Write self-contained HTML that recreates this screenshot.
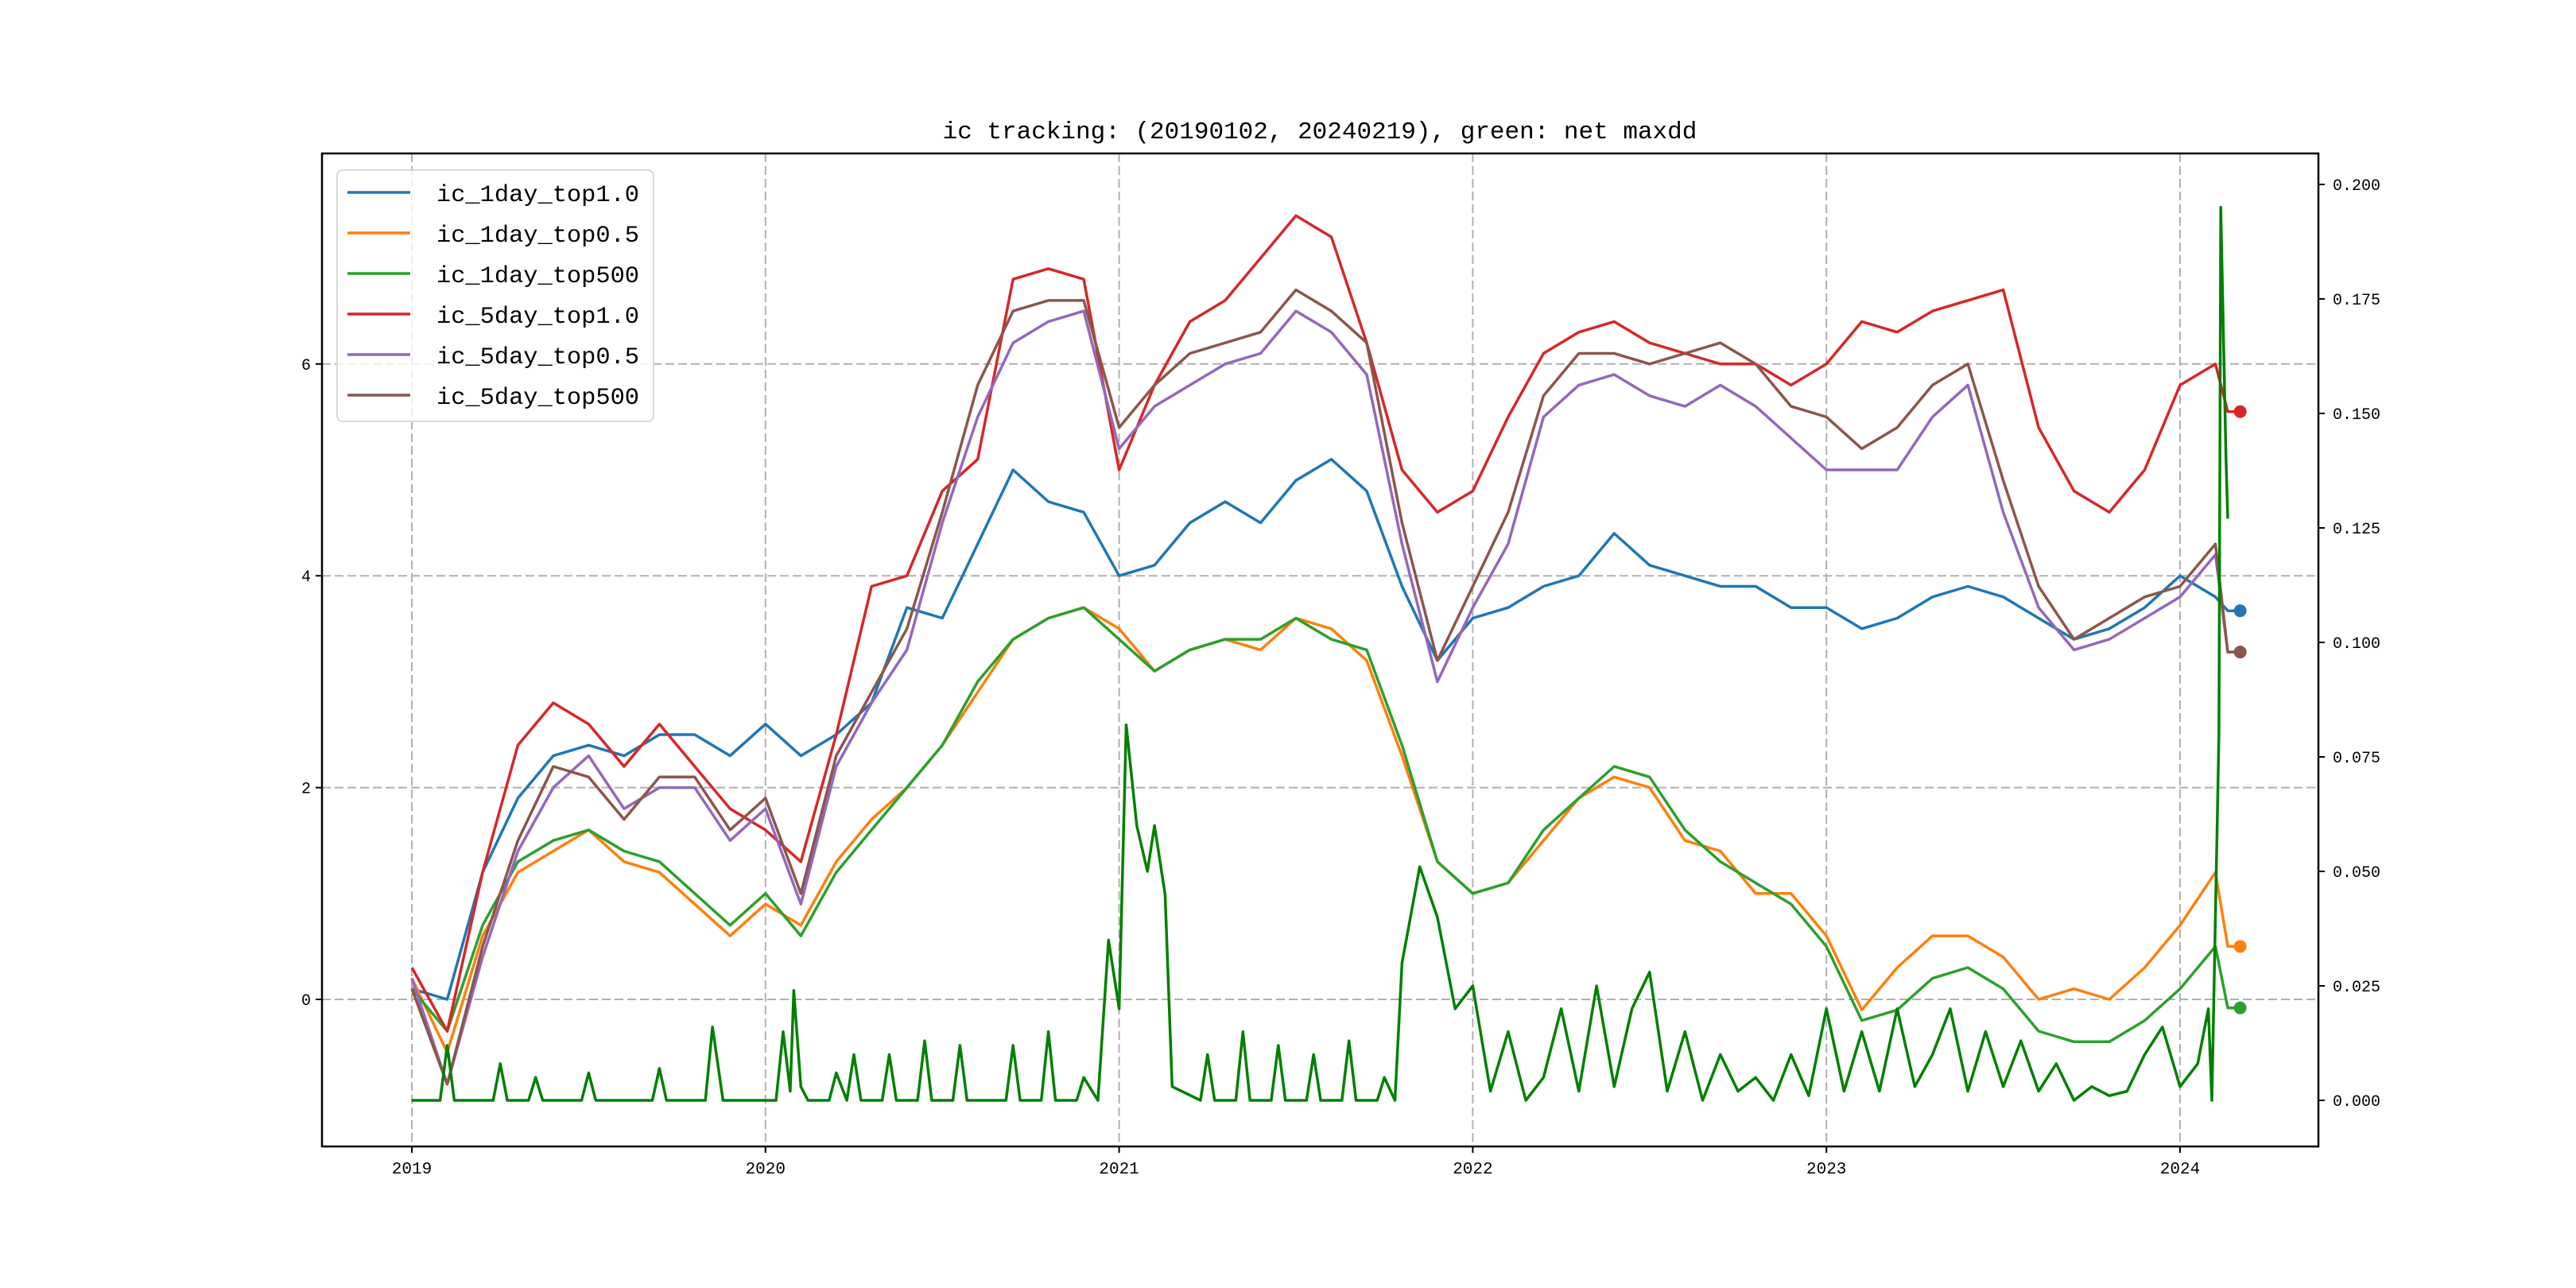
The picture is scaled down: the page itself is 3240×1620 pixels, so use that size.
<!DOCTYPE html>
<html><head><meta charset="utf-8"><style>
html,body{margin:0;padding:0;background:#fff;}
svg{display:block;}
text{font-family:"Liberation Mono","Noto Sans CJK SC",monospace;fill:#000;}
</style></head><body>
<svg id="chart" width="3240" height="1620" viewBox="0 0 3240 1620" xmlns="http://www.w3.org/2000/svg">
<rect width="3240" height="1620" fill="#fff"/>
<text x="1660" y="174" font-size="31" text-anchor="middle">ic tracking: (20190102, 20240219), green: net maxdd</text>
<g id="grid"></g>
<g id="series"></g>
<g id="axes"></g>
<g id="legend"></g>
</svg>
<script>
const years = [2019,2020,2021,2022,2023,2024];
const leftTicks = [0,2,4,6];
const rightTicks = [0,0.025,0.05,0.075,0.1,0.125,0.15,0.175,0.2];
const rightTickLabels = ["0.000","0.025","0.050","0.075","0.100","0.125","0.150","0.175","0.200"];
const seriesNames = ["ic_1day_top1.0","ic_1day_top0.5","ic_1day_top500","ic_5day_top1.0","ic_5day_top0.5","ic_5day_top500"];
const seriesColors = ["#1f77b4","#ff7f0e","#2ca02c","#d62728","#9467bd","#8c564b"];
const dates = [];
for (let i = 0; i <= 51; i++) dates.push(2019 + i * 0.1);
const endDate = 2024.135;
const markerDate = 2024.17;
const blue = [0.1,0.0,1.2,1.9,2.3,2.4,2.3,2.5,2.5,2.3, 2.6,2.3,2.5,2.8,3.7,3.6,4.3,5.0,4.7,4.6, 4.0,4.1,4.5,4.7,4.5,4.9,5.1,4.8,3.9,3.2, 3.6,3.7,3.9,4.0,4.4,4.1,4.0,3.9,3.9,3.7, 3.7,3.5,3.6,3.8,3.9,3.8,3.6,3.4,3.5,3.7, 4.0,3.8];
const orange = [0.2,-0.5,0.6,1.2,1.4,1.6,1.3,1.2,0.9,0.6, 0.9,0.7,1.3,1.7,2.0,2.4,2.9,3.4,3.6,3.7, 3.5,3.1,3.3,3.4,3.3,3.6,3.5,3.2,2.3,1.3, 1.0,1.1,1.5,1.9,2.1,2.0,1.5,1.4,1.0,1.0, 0.6,-0.1,0.3,0.6,0.6,0.4,0.0,0.1,0.0,0.3, 0.7,1.2];
const green = [0.1,-0.3,0.7,1.3,1.5,1.6,1.4,1.3,1.0,0.7, 1.0,0.6,1.2,1.6,2.0,2.4,3.0,3.4,3.6,3.7, 3.4,3.1,3.3,3.4,3.4,3.6,3.4,3.3,2.4,1.3, 1.0,1.1,1.6,1.9,2.2,2.1,1.6,1.3,1.1,0.9, 0.5,-0.2,-0.1,0.2,0.3,0.1,-0.3,-0.4,-0.4,-0.2, 0.1,0.5];
const red = [0.3,-0.3,1.2,2.4,2.8,2.6,2.2,2.6,2.2,1.8, 1.6,1.3,2.5,3.9,4.0,4.8,5.1,6.8,6.9,6.8, 5.0,5.8,6.4,6.6,7.0,7.4,7.2,6.2,5.0,4.6, 4.8,5.5,6.1,6.3,6.4,6.2,6.1,6.0,6.0,5.8, 6.0,6.4,6.3,6.5,6.6,6.7,5.4,4.8,4.6,5.0, 5.8,6.0];
const purple = [0.2,-0.8,0.4,1.4,2.0,2.3,1.8,2.0,2.0,1.5, 1.8,0.9,2.2,2.8,3.3,4.5,5.5,6.2,6.4,6.5, 5.2,5.6,5.8,6.0,6.1,6.5,6.3,5.9,4.3,3.0, 3.7,4.3,5.5,5.8,5.9,5.7,5.6,5.8,5.6,5.3, 5.0,5.0,5.0,5.5,5.8,4.6,3.7,3.3,3.4,3.6, 3.8,4.2];
const brown = [0.1,-0.8,0.5,1.5,2.2,2.1,1.7,2.1,2.1,1.6, 1.9,1.0,2.3,2.9,3.5,4.6,5.8,6.5,6.6,6.6, 5.4,5.8,6.1,6.2,6.3,6.7,6.5,6.2,4.5,3.2, 3.9,4.6,5.7,6.1,6.1,6.0,6.1,6.2,6.0,5.6, 5.5,5.2,5.4,5.8,6.0,4.9,3.9,3.4,3.6,3.8, 3.9,4.3];
const endValues = [3.67,0.5,-0.08,5.55,3.28,3.28];
const maxddDates = [2019.0,2019.08,2019.1,2019.12,2019.23,2019.25,2019.27,2019.33,2019.35,2019.37,2019.48,2019.5,2019.52,2019.68,2019.7,2019.72,2019.83,2019.85,2019.88,2020.03,2020.05,2020.07,2020.08,2020.1,2020.12,2020.18,2020.2,2020.23,2020.25,2020.27,2020.33,2020.35,2020.37,2020.43,2020.45,2020.47,2020.53,2020.55,2020.57,2020.68,2020.7,2020.72,2020.78,2020.8,2020.82,2020.88,2020.9,2020.94,2020.97,2021.0,2021.02,2021.05,2021.08,2021.1,2021.13,2021.15,2021.23,2021.25,2021.27,2021.33,2021.35,2021.37,2021.43,2021.45,2021.47,2021.53,2021.55,2021.57,2021.63,2021.65,2021.67,2021.73,2021.75,2021.78,2021.8,2021.85,2021.9,2021.95,2022.0,2022.05,2022.1,2022.15,2022.2,2022.25,2022.3,2022.35,2022.4,2022.45,2022.5,2022.55,2022.6,2022.65,2022.7,2022.75,2022.8,2022.85,2022.9,2022.95,2023.0,2023.05,2023.1,2023.15,2023.2,2023.25,2023.3,2023.35,2023.4,2023.45,2023.5,2023.55,2023.6,2023.65,2023.7,2023.75,2023.8,2023.85,2023.9,2023.95,2024.0,2024.05,2024.08,2024.09,2024.11,2024.115,2024.13,2024.135];
const maxddValues = [0,0,0.012,0,0,0.008,0,0,0.005,0,0,0.006,0,0,0.007,0,0,0.016,0,0,0.015,0.002,0.024,0.003,0,0,0.006,0,0.01,0,0,0.01,0,0,0.013,0,0,0.012,0,0,0.012,0,0,0.015,0,0,0.005,0,0.035,0.02,0.082,0.06,0.05,0.06,0.045,0.003,0,0.01,0,0,0.015,0,0,0.012,0,0,0.01,0,0,0.013,0,0,0.005,0,0.03,0.051,0.04,0.02,0.025,0.002,0.015,0,0.005,0.02,0.002,0.025,0.003,0.02,0.028,0.002,0.015,0,0.01,0.002,0.005,0,0.01,0.001,0.02,0.002,0.015,0.002,0.02,0.003,0.01,0.02,0.002,0.015,0.003,0.013,0.002,0.008,0,0.003,0.001,0.002,0.01,0.016,0.003,0.008,0.02,0,0.08,0.195,0.14,0.127];

const L = 405, R = 2916, T = 193, B = 1442;
const x = d => 518 + (d - 2019) * 444.8;
const yL = v => 1257 - v * 133.2;
const yR = v => 1384 - v * 5760;
const NS = "http://www.w3.org/2000/svg";
function mk(tag, attrs, parent) {
  const e = document.createElementNS(NS, tag);
  for (const k in attrs) e.setAttribute(k, attrs[k]);
  parent.appendChild(e);
  return e;
}
const grid = document.getElementById('grid');
const series = document.getElementById('series');
const axes = document.getElementById('axes');
const legend = document.getElementById('legend');

years.forEach(yv => {
  const g = mk('line', {x1: x(yv), x2: x(yv), y1: T, y2: B, stroke: '#b0b0b0', 'stroke-width': 2, 'stroke-dasharray': '11,5'}, grid);
  
  
});
leftTicks.forEach(v => {
  const g = mk('line', {x1: L, x2: R, y1: yL(v), y2: yL(v), stroke: '#b0b0b0', 'stroke-width': 2, 'stroke-dasharray': '11,5'}, grid);
  
  
});

const all = [blue, orange, green, red, purple, brown];
all.forEach((vals, i) => {
  let d = '';
  vals.forEach((v, j) => { d += (j ? 'L' : 'M') + x(dates[j]).toFixed(1) + ',' + yL(v).toFixed(1); });
  d += 'L' + x(endDate).toFixed(1) + ',' + yL(endValues[i]).toFixed(1);
  d += 'L' + x(markerDate).toFixed(1) + ',' + yL(endValues[i]).toFixed(1);
  const p = mk('path', {d: d, fill: 'none', stroke: seriesColors[i], 'stroke-width': 3.5, 'stroke-linejoin': 'round'}, series);
  
  
});
all.forEach((vals, i) => {
  const c = mk('circle', {cx: x(markerDate), cy: yL(endValues[i]), r: 8, fill: seriesColors[i]}, series);
  
  
});
{
  let d = '';
  maxddValues.forEach((v, j) => { d += (j ? 'L' : 'M') + x(maxddDates[j]).toFixed(1) + ',' + yR(v).toFixed(1); });
  const p = mk('path', {d: d, fill: 'none', stroke: '#008000', 'stroke-width': 3.5, 'stroke-linejoin': 'round'}, series);
  
  
}

const frame = mk('rect', {x: L, y: T, width: R - L, height: B - T, fill: 'none', stroke: '#000', 'stroke-width': 2.5}, axes);


years.forEach(yv => {
  mk('line', {x1: x(yv), x2: x(yv), y1: B, y2: B + 8, stroke: '#000', 'stroke-width': 2}, axes);
  const t = mk('text', {x: x(yv), y: B + 34, 'font-size': 21, 'text-anchor': 'middle', 'font-family': 'Liberation Sans, sans-serif'}, axes);
  t.textContent = yv;
  
  
});
leftTicks.forEach(v => {
  mk('line', {x1: L - 8, x2: L, y1: yL(v), y2: yL(v), stroke: '#000', 'stroke-width': 2}, axes);
  const t = mk('text', {x: L - 14, y: yL(v) + 7, 'font-size': 20, 'text-anchor': 'end'}, axes);
  t.textContent = v;
  
  
});
rightTicks.forEach((v, i) => {
  mk('line', {x1: R, x2: R + 8, y1: yR(v), y2: yR(v), stroke: '#000', 'stroke-width': 2}, axes);
  const t = mk('text', {x: R + 18, y: yR(v) + 7, 'font-size': 20}, axes);
  t.textContent = rightTickLabels[i];
  
  
});

const lb = mk('rect', {x: 424, y: 214, width: 398, height: 316, rx: 7, fill: '#fff', 'fill-opacity': 0.8, stroke: '#d8d8d8', 'stroke-width': 2}, legend);


seriesNames.forEach((n, i) => {
  const yy = 242 + i * 51;
  const ln = mk('line', {x1: 437, x2: 516, y1: yy, y2: yy, stroke: seriesColors[i], 'stroke-width': 3.5}, legend);
  
  
  const t = mk('text', {x: 549, y: yy + 11, 'font-size': 30, textLength: 255, lengthAdjust: 'spacingAndGlyphs'}, legend);
  t.textContent = n;
  
  
});
</script>
</body></html>
